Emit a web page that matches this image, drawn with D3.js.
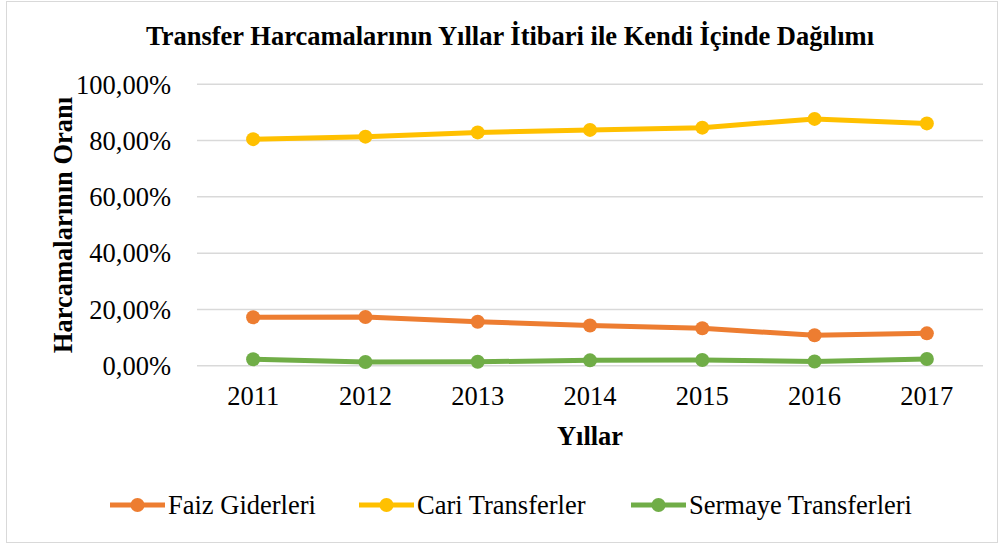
<!DOCTYPE html>
<html>
<head>
<meta charset="utf-8">
<script src="https://cdn.jsdelivr.net/npm/d3@7"></script>
<style>
  body { margin: 0; background: #fff; }
  svg { display: block; }
  text { font-family: "Liberation Serif", "Times New Roman", serif; }
</style>
</head>
<body>
<svg id="chart" width="1001" height="545"></svg>
<script>
// chart data
const years = ["2011", "2012", "2013", "2014", "2015", "2016", "2017"];
const faizGiderleri = [17.2, 17.3, 15.6, 14.3, 13.3, 10.8, 11.5];
const cariTransferler = [80.5, 81.4, 82.9, 83.8, 84.6, 87.7, 86.1];
const sermayeTransferleri = [2.3, 1.3, 1.4, 1.9, 2.0, 1.5, 2.4];
const yTicks = [0, 20, 40, 60, 80, 100];
const seriesNames = ["Faiz Giderleri", "Cari Transferler", "Sermaye Transferleri"];
const colors = ["#ED7D31", "#FFC000", "#70AD47"];

const series = [faizGiderleri, cariTransferler, sermayeTransferleri].map((vals, i) => ({
  name: seriesNames[i],
  color: colors[i],
  values: vals.map((v, j) => ({ year: years[j], value: v }))
}));

const svg = d3.select("#chart");
const fs = "26.5px";

// outer border
svg.append("rect")
  .attr("x", 6.5).attr("y", 1.5)
  .attr("width", 991).attr("height", 541)
  .attr("fill", "#fff")
  .attr("stroke", "#D9D9D9")
  .attr("stroke-width", 1);

const plot = { left: 197, right: 983, top: 84.3, bottom: 365.7 };

const x = d3.scaleBand().domain(years).range([plot.left, plot.right]);
const y = d3.scaleLinear().domain([0, 100]).range([plot.bottom, plot.top]);

// gridlines
svg.append("g")
  .selectAll("line")
  .data(yTicks)
  .enter()
  .append("line")
  .attr("x1", plot.left).attr("x2", plot.right)
  .attr("y1", d => y(d)).attr("y2", d => y(d))
  .attr("stroke", "#D9D9D9")
  .attr("stroke-width", 1.5);

// y tick labels
const fmt = d => d3.format(".2f")(d).replace(".", ",") + "%";
svg.append("g")
  .selectAll("text")
  .data(yTicks)
  .enter()
  .append("text")
  .attr("x", 171)
  .attr("y", d => y(d))
  .attr("dy", "0.35em")
  .attr("text-anchor", "end")
  .style("font-size", fs)
  .text(fmt);

// x tick labels
svg.append("g")
  .selectAll("text")
  .data(years)
  .enter()
  .append("text")
  .attr("x", d => x(d) + x.bandwidth() / 2)
  .attr("y", 405)
  .attr("text-anchor", "middle")
  .style("font-size", fs)
  .text(d => d);

// lines
const line = d3.line()
  .x(d => x(d.year) + x.bandwidth() / 2)
  .y(d => y(d.value));

const g = svg.selectAll(".series")
  .data(series)
  .enter()
  .append("g")
  .attr("class", "series");

g.append("path")
  .attr("d", d => line(d.values))
  .attr("fill", "none")
  .attr("stroke", d => d.color)
  .attr("stroke-width", 5)
  .attr("stroke-linejoin", "round");

g.selectAll("circle")
  .data(d => d.values.map(v => ({ ...v, color: d.color })))
  .enter()
  .append("circle")
  .attr("cx", d => x(d.year) + x.bandwidth() / 2)
  .attr("cy", d => y(d.value))
  .attr("r", 7)
  .attr("fill", d => d.color);

// title
svg.append("text")
  .attr("x", 510)
  .attr("y", 45)
  .attr("text-anchor", "middle")
  .style("font-size", fs)
  .style("font-weight", "bold")
  .text("Transfer Harcamalarının Yıllar İtibari ile Kendi İçinde Dağılımı");

// axis titles
svg.append("text")
  .attr("transform", "translate(72," + (plot.top + plot.bottom) / 2 + ") rotate(-90)")
  .attr("text-anchor", "middle")
  .style("font-size", fs)
  .style("font-weight", "bold")
  .text("Harcamalarının Oranı");

svg.append("text")
  .attr("x", (plot.left + plot.right) / 2)
  .attr("y", 445)
  .attr("text-anchor", "middle")
  .style("font-size", fs)
  .style("font-weight", "bold")
  .text("Yıllar");

// legend
const legendX = [110, 359, 631];
const lg = svg.selectAll(".legend")
  .data(series)
  .enter()
  .append("g")
  .attr("class", "legend")
  .attr("transform", (d, i) => "translate(" + legendX[i] + ",505)");

lg.append("line")
  .attr("x1", 0).attr("x2", 55)
  .attr("stroke", d => d.color)
  .attr("stroke-width", 5);

lg.append("circle")
  .attr("cx", 27.5)
  .attr("r", 7)
  .attr("fill", d => d.color);

lg.append("text")
  .attr("x", 58)
  .attr("dy", "0.35em")
  .style("font-size", fs)
  .text(d => d.name);
</script>
</body>
</html>
